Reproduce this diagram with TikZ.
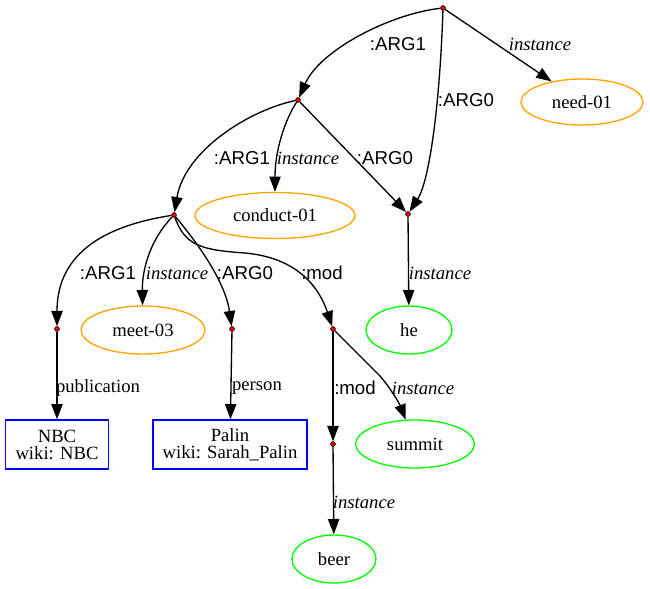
\documentclass[tikz,border=0pt]{standalone}
\usepackage{fontspec}
\setmainfont{Liberation Serif}
\setsansfont{Liberation Sans}
\usetikzlibrary{arrows.meta,shapes.geometric}
\definecolor{gvorange}{RGB}{255,165,0}
\definecolor{gvgreen}{RGB}{0,255,0}
\definecolor{gvblue}{RGB}{0,0,255}

\begin{document}
\begin{tikzpicture}[x=0.75pt,y=-0.75pt,
  every node/.style={font=\fontsize{14}{16}\selectfont},
  dot/.style={circle,fill=red,draw=black,line width=0.5pt,inner sep=0pt,minimum size=3.6pt},
  concept/.style={ellipse,draw=gvorange,line width=1pt,inner sep=0pt,minimum height=34.5pt},
  entity/.style={ellipse,draw=gvgreen,line width=1pt,inner sep=0pt,minimum height=36pt},
  named/.style={rectangle,draw=gvblue,line width=1pt,align=center,inner sep=0pt,
    minimum height=36.75pt,font=\fontsize{14}{12.75}\selectfont},
  link/.style={-{Triangle[length=11.5pt,width=8.5pt]},line width=1pt},
  rel/.style={font=\sffamily\fontsize{14}{16}\selectfont,inner sep=0pt},
  inst/.style={font=\itshape\fontsize{14}{16}\selectfont,inner sep=0pt},
  attr/.style={font=\fontsize{14}{16}\selectfont,inner sep=0pt}]
\useasboundingbox (0,0) rectangle (650,589);

% variable points
\node[dot] (root) at (443,8) {};
\node[dot] (a1)   at (298,100) {};
\node[dot] (hev)  at (408,214) {};
\node[dot] (a11)  at (174,215) {};
\node[dot] (pub)  at (57,329) {};
\node[dot] (per)  at (232,329) {};
\node[dot] (mod)  at (333,329) {};
\node[dot] (mod2) at (333,444) {};

% concepts
\node[concept,minimum width=91.5pt] (need)    at (582,102) {need-01};
\node[concept,minimum width=120pt]  (conduct) at (275,215.5) {conduct-01};
\node[concept,minimum width=93pt,minimum height=36pt] (meet) at (143,330) {meet-03};
\node[entity,minimum width=64.5pt]  (he)      at (409,330) {he};
\node[entity,minimum width=89pt]    (summit)  at (415,444) {summit};
\node[entity,minimum width=63pt]    (beer)    at (334,559) {beer};
\node[named,minimum width=77.25pt]  (nbc)     at (57,444.5) {NBC\\wiki: NBC};
\node[named,minimum width=115.5pt]  (palin)   at (230,444.5) {Palin\\wiki: Sarah\_Palin};

% connectors
\draw[link] (root) .. controls (390,14) and (320,50) .. (a1);
\draw[link] (root) .. controls (440,100) and (430,180) .. (hev);
\draw[link] (root) -- (need);
\draw[link] (a1) .. controls (250,110) and (185,150) .. (a11);
\draw[link] (a1) .. controls (285,120) and (275,150) .. (conduct);
\draw[link] (a1) -- (hev);
\draw[link] (hev) -- (he);
\draw[link] (a11) .. controls (110,225) and (57,250) .. (pub);
\draw[link] (a11) .. controls (150,240) and (142,270) .. (meet);
\draw[link] (a11) .. controls (195,240) and (225,280) .. (per);
\draw[link] (a11) .. controls (185,245) and (200,250) .. (245,253)
                  .. controls (300,258) and (320,290) .. (mod);
\draw[link] (pub) -- (nbc);
\draw[link] (per) -- (palin);
\draw[link] (mod) -- (mod2);
\draw[link] (mod) -- (380,376) .. controls (392,390) and (400,405) .. (summit);
\draw[link] (mod2) -- (beer);

% connector labels
\node[rel]  (l1)  at (398,44)  {:ARG1};
\node[rel]  (l2)  at (466,100) {:ARG0};
\node[inst] (l3)  at (540,44)  {instance};
\node[rel]  (l4)  at (242,158) {:ARG1};
\node[inst] (l5)  at (308,158) {instance};
\node[rel]  (l6)  at (385,158) {:ARG0};
\node[inst] (l7)  at (440,273) {instance};
\node[rel]  (l8)  at (108,273) {:ARG1};
\node[inst] (l9)  at (177,273) {instance};
\node[rel]  (l10) at (245,273) {:ARG0};
\node[rel]  (l11) at (322,273) {:mod};
\node[attr] (l12) at (98,388)  {publication};
\node[attr] (l13) at (257,388) {person};
\node[rel]  (l14) at (355,388) {:mod};
\node[inst] (l15) at (423,388) {instance};
\node[inst] (l16) at (364,502) {instance};
\end{tikzpicture}
\end{document}
